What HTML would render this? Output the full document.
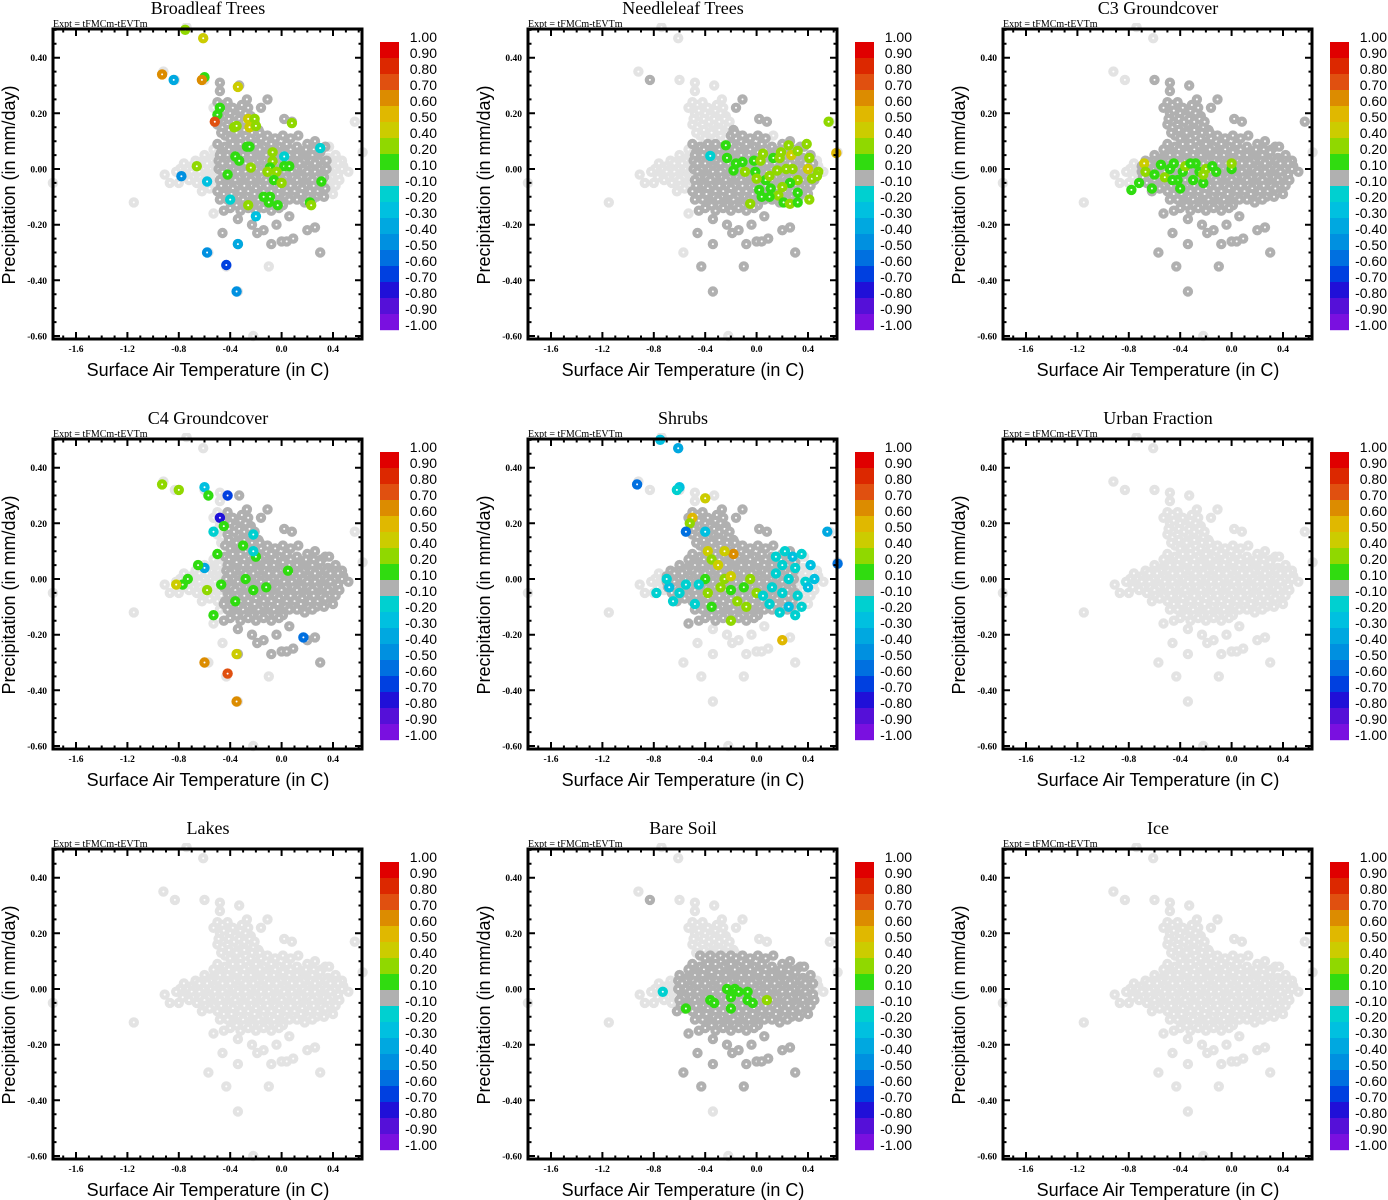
<!DOCTYPE html>
<html><head><meta charset="utf-8"><title>Correlation scatter panels</title>
<style>html,body{margin:0;padding:0;background:#fff}svg{display:block}</style></head>
<body>
<svg id="fig" width="1388" height="1200" viewBox="0 0 1388 1200" xmlns="http://www.w3.org/2000/svg"></svg>
<script>
// ---- data ----
const panelTitles = ["Broadleaf Trees","Needleleaf Trees","C3 Groundcover","C4 Groundcover","Shrubs","Urban Fraction","Lakes","Bare Soil","Ice"];
const xTicks = [-1.6,-1.2,-0.8,-0.4,0.0,0.4];
const xTickLabels = ["-1.6","-1.2","-0.8","-0.4","0.0","0.4"];
const yTicks = [0.4,0.2,0.0,-0.2,-0.4,-0.6];
const yTickLabels = ["0.40","0.20","0.00","-0.20","-0.40","-0.60"];
const cbBounds = [1.0,0.9,0.8,0.7,0.6,0.5,0.4,0.2,0.1,-0.1,-0.2,-0.3,-0.4,-0.5,-0.6,-0.7,-0.8,-0.9,-1.0];
const cbLabels = ["1.00","0.90","0.80","0.70","0.60","0.50","0.40","0.20","0.10","-0.10","-0.20","-0.30","-0.40","-0.50","-0.60","-0.70","-0.80","-0.90","-1.00"];
const cbColors = ["#e00000","#dc2800","#e05010","#dc8c00","#e0b800","#cccc00","#90d800","#30dc10","#b0b0b0","#00d0d0","#00c0e0","#00a8e0","#0090e0","#0070e0","#0040e0","#2010d8","#5510d8","#7a10e0"];
// base cloud, hundredths "x,y"
const basePoints = ("-50,24 -46,23 -42,24 -38,22 -48,20 -44,19 -40,20 -36,19 -32,21 -28,20 -24,19 -50,16 -46,15 -42,16 -38,15 -34,16 -30,15 -26,16 -22,15 -18,14 -44,12 -40,11 -36,12 -32,11 -28,12 -24,11 -20,12 -16,11 " +
"-53,22 -49,18 -45,21 -41,18 -37,17 -33,18 -29,17 -25,18 -21,17 -31,23 -26,22 " +
"-47,13 -41,14 -35,13 -29,14 -23,13 -17,13 -11,12 -5,11 1,12 7,11 13,12 " +
"-50,9 -44,8 -38,9 -32,9 -26,8 -20,9 -14,8 -8,9 -2,8 4,9 12,8 20,9 26,10 34,8 " +
"-53,7 -47,6 -41,7 -35,6 -29,7 -23,6 -17,7 -11,6 -5,7 1,6 7,7 13,6 19,7 25,7 31,7 37,8 " +
"-60,5 -54,4 -48,5 -42,5 -36,4 -30,5 -24,5 -18,4 -12,5 -6,5 0,4 6,5 12,5 18,4 24,5 30,6 36,4 42,5 " +
"-67,3 -61,3 -55,3 -49,3 -43,3 -37,3 -31,3 -25,3 -19,3 -13,3 -7,3 -1,3 5,3 11,3 17,3 23,3 29,3 35,3 41,3 47,3 " +
"-76,2 -70,1 -64,2 -58,2 -52,1 -46,2 -40,2 -34,1 -28,2 -22,2 -16,1 -10,2 -4,2 2,1 8,2 14,2 20,1 26,2 32,1 38,2 44,2 48,1 " +
"-79,0 -73,0 -67,0 -61,0 -55,0 -49,0 -43,0 -37,0 -31,0 -25,0 -19,0 -13,0 -7,0 -1,0 5,0 11,0 17,0 23,0 29,0 35,0 41,0 47,0 52,-1 " +
"-82,-1 -76,-2 -70,-1 -64,-1 -58,-2 -52,-1 -46,-1 -40,-2 -34,-1 -28,-1 -22,-2 -16,-1 -10,-1 -4,-2 2,-1 8,-1 14,-2 20,-1 26,-1 32,-2 38,-1 44,-2 " +
"-77,-3 -69,-3 -63,-3 -57,-3 -51,-3 -45,-3 -39,-3 -33,-3 -27,-3 -21,-3 -15,-3 -9,-3 -3,-3 3,-3 9,-3 15,-3 21,-3 27,-3 33,-3 39,-3 45,-4 " +
"-80,-5 -72,-4 -66,-5 -60,-4 -54,-5 -48,-4 -42,-5 -36,-4 -30,-5 -24,-4 -18,-5 -12,-4 -6,-5 0,-4 6,-5 12,-4 18,-5 24,-4 30,-5 36,-4 42,-6 " +
"-59,-6 -53,-6 -47,-6 -41,-6 -35,-6 -29,-6 -23,-6 -17,-6 -11,-6 -5,-6 1,-6 7,-6 13,-6 19,-6 25,-6 31,-6 37,-6 " +
"-62,-8 -56,-7 -50,-8 -44,-8 -38,-7 -32,-8 -26,-8 -20,-7 -14,-8 -8,-8 -2,-7 4,-8 10,-8 16,-7 22,-8 28,-8 34,-7 40,-9 " +
"-45,-9 -39,-9 -33,-10 -27,-10 -21,-9 -15,-10 -9,-10 -3,-9 3,-10 9,-10 15,-9 21,-10 27,-10 33,-10 " +
"-48,-11 -42,-11 -36,-12 -30,-11 -24,-12 -18,-11 -12,-12 -6,-11 0,-12 6,-11 12,-11 18,-12 24,-11 " +
"-35,-13 -29,-13 -23,-13 -17,-13 -11,-13 -5,-13 1,-13 " +
"-40,-14 -32,-15 -26,-14 -20,-15 -14,-14 -8,-15 -2,-14 " +
"-74,51 -61,47 -92,35 -83,32 -60,32 -48,31 -48,28 -33,30 -27,25 -11,25 -16,22 2,18 8,17 57,17 63,6 -178,-5 -115,-12 -91,-2 -87,-5 " +
"-53,-16 -45,-15 -34,-18 -46,-23 -23,-20 -14,-22 -19,-23 -4,-20 6,-17 20,-22 26,-21 0,-26 4,-26 9,-25 -8,-27 -34,-27 -57,-30 30,-30 -43,-35 -10,-35 -34,-44 -22,-60")
  .split(" ").map(s => s.split(",").map(Number));
// dark gray regions per panel [xmin,xmax,ymin,ymax]
const darkRegions = [
  [[-0.5,0.35,-0.3,0.36]],
  [[-0.5,0.45,-0.45,0.1],[-0.2,0.1,0.1,0.3],[-0.85,-0.8,0.3,0.35]],
  [[-0.7,0.6,-0.45,0.36]],
  [[-0.45,0.55,-0.32,0.3]],
  [[-0.7,0.3,-0.16,0.25]],
  [], [],
  [[-0.62,0.45,-0.4,0.12],[-0.85,-0.8,0.3,0.35]],
  []
];
// colored (significant) points [x,y,r]
const sigBroadleaf = [[-0.75,0.50,0.2],[-0.61,0.47,0.4],[-0.93,0.34,0.6],[-0.84,0.32,-0.4],[-0.60,0.33,0.1],[-0.62,0.32,0.6],[-0.34,0.295,0.4],[-0.48,0.22,0.1],[-0.50,0.195,0.1],[-0.52,0.17,0.7],[-0.37,0.15,0.2],[-0.35,0.155,0.2],[-0.26,0.18,0.4],[-0.21,0.18,0.2],[-0.25,0.15,0.4],[-0.20,0.155,0.2],[0.08,0.165,0.2],[-0.27,0.08,0.1],[-0.25,0.08,0.1],[0.30,0.075,-0.2],[0.02,0.045,-0.2],[-0.36,0.045,0.1],[-0.33,0.03,0.1],[-0.07,0.06,0.2],[-0.07,0.028,0.2],[-0.66,0.01,0.2],[-0.24,0.005,0.2],[-0.09,0.005,0.1],[0.02,0.01,0.1],[0.06,0.01,0.1],[-0.78,-0.026,-0.5],[-0.58,-0.045,-0.3],[-0.42,-0.02,0.1],[-0.11,-0.01,0.2],[-0.04,-0.01,0.2],[-0.06,-0.04,0.1],[0.0,-0.05,0.2],[0.31,-0.045,0.1],[-0.40,-0.11,-0.2],[-0.14,-0.10,0.1],[-0.09,-0.10,0.1],[-0.10,-0.12,0.1],[-0.03,-0.13,0.1],[-0.26,-0.13,0.2],[0.22,-0.12,0.1],[0.23,-0.13,0.2],[-0.20,-0.17,-0.3],[-0.34,-0.27,-0.4],[-0.58,-0.30,-0.5],[-0.43,-0.345,-0.7],[-0.35,-0.44,-0.5]];
const sigNeedleleaf = [[-0.36,0.047,-0.2],[-0.24,0.085,0.1],[-0.23,0.04,0.1],[-0.16,0.02,0.1],[-0.11,0.025,0.1],[-0.18,-0.005,0.1],[-0.09,-0.01,0.2],[-0.02,0.03,0.1],[0.03,0.03,0.2],[-0.01,-0.01,0.1],[0.05,0.055,0.2],[0.13,0.04,0.1],[0.18,0.04,0.2],[0.19,0.06,0.2],[0.25,0.085,0.2],[0.27,0.05,0.4],[0.32,0.065,0.2],[0.39,0.09,0.2],[0.41,0.04,0.2],[0.40,0.0,0.4],[0.48,-0.01,0.2],[0.43,-0.035,0.2],[0.47,-0.025,0.2],[0.07,-0.04,0.1],[0.0,-0.035,0.2],[0.10,-0.025,0.2],[0.16,-0.005,0.2],[0.23,0.0,0.2],[0.28,0.0,0.2],[0.32,-0.04,0.2],[0.26,-0.05,0.1],[0.20,-0.065,0.2],[0.11,-0.07,0.1],[0.02,-0.075,0.1],[0.04,-0.10,0.1],[0.17,-0.095,0.2],[0.21,-0.12,0.1],[0.26,-0.125,0.2],[0.32,-0.085,0.1],[0.32,-0.12,0.1],[0.41,-0.11,0.2],[-0.05,-0.125,0.2],[0.56,0.17,0.2],[0.62,0.057,0.5],[0.10,-0.10,0.1]];
const sigC3 = [[-0.78,-0.075,0.1],[-0.72,-0.05,0.1],[-0.68,0.02,0.4],[-0.67,-0.01,0.2],[-0.60,-0.02,0.1],[-0.55,0.015,0.1],[-0.52,-0.03,0.2],[-0.48,0.0,0.1],[-0.45,0.02,0.1],[-0.42,-0.04,0.1],[-0.38,-0.01,0.1],[-0.36,0.01,0.2],[-0.30,-0.04,0.1],[-0.28,0.02,0.1],[-0.25,-0.01,0.1],[-0.22,-0.05,0.1],[-0.20,0.0,0.2],[-0.15,0.01,0.1],[-0.12,-0.01,0.1],[0.0,0.0,0.1],[0.0,0.02,0.2],[-0.40,-0.07,0.1],[-0.62,-0.07,0.1],[-0.22,-0.02,0.2],[-0.32,0.02,0.1],[-0.46,-0.04,0.1]];
const sigC4 = [[-0.93,0.34,0.2],[-0.80,0.32,0.2],[-0.60,0.33,-0.3],[-0.57,0.30,0.1],[-0.42,0.30,-0.7],[-0.48,0.22,-0.8],[-0.53,0.17,-0.2],[-0.45,0.19,0.1],[-0.22,0.16,-0.2],[-0.30,0.12,0.1],[-0.50,0.09,0.1],[-0.60,0.04,-0.4],[-0.65,0.05,0.1],[-0.73,0.0,0.1],[-0.77,-0.02,0.1],[-0.82,-0.02,0.4],[-0.58,-0.04,0.2],[-0.47,-0.02,0.1],[-0.36,-0.08,0.1],[-0.28,0.0,0.1],[-0.22,-0.04,0.1],[-0.20,0.08,0.1],[-0.12,-0.03,0.1],[0.05,0.03,0.1],[0.17,-0.21,-0.6],[-0.53,-0.13,0.1],[-0.60,-0.30,0.6],[-0.42,-0.34,0.7],[-0.35,-0.27,0.4],[-0.35,-0.44,0.6],[-0.22,0.10,-0.2]];
const sigShrubs = [[-0.75,0.50,-0.3],[-0.61,0.47,-0.4],[-0.93,0.34,-0.6],[-0.60,0.33,-0.3],[-0.62,0.32,-0.2],[-0.40,0.29,0.4],[-0.50,0.22,0.5],[-0.52,0.20,0.2],[-0.55,0.17,-0.6],[-0.40,0.17,-0.3],[-0.38,0.10,0.4],[-0.18,0.09,0.6],[-0.35,0.07,0.2],[-0.30,0.05,0.4],[-0.25,0.0,0.2],[-0.40,0.0,0.1],[-0.45,-0.02,-0.2],[-0.38,-0.05,0.2],[-0.28,-0.03,0.2],[-0.20,-0.04,0.1],[-0.10,-0.03,0.1],[-0.05,0.0,0.2],[0.0,-0.05,0.2],[-0.15,-0.08,0.2],[-0.35,-0.10,0.1],[-0.08,-0.10,0.2],[-0.20,-0.15,0.2],[0.20,-0.22,0.5],[-0.60,-0.05,-0.2],[-0.55,-0.02,-0.2],[-0.68,-0.03,-0.3],[-0.70,0.0,-0.2],[-0.65,-0.08,-0.2],[-0.78,-0.05,-0.2],[-0.48,-0.09,-0.2],[-0.25,0.10,0.4],[-0.20,0.01,0.4],[0.15,0.08,-0.2],[0.22,0.10,-0.2],[0.28,0.08,-0.3],[0.35,0.09,-0.2],[0.20,0.05,-0.2],[0.30,0.04,-0.2],[0.42,0.05,-0.3],[0.45,0.0,-0.3],[0.38,-0.01,-0.2],[0.25,0.0,-0.2],[0.15,0.02,-0.2],[0.12,-0.03,-0.2],[0.20,-0.05,-0.2],[0.32,-0.06,-0.2],[0.40,-0.03,-0.3],[0.35,-0.10,-0.2],[0.25,-0.10,-0.3],[0.18,-0.12,-0.2],[0.30,-0.13,-0.2],[0.55,0.17,-0.4],[0.63,0.055,-0.6],[0.10,-0.09,-0.2],[0.05,-0.06,-0.2]];
const sigUrban = [];
const sigLakes = [];
const sigBareSoil = [[-0.73,-0.01,-0.2],[-0.55,-0.07,0.1],[-0.36,-0.04,0.1],[-0.33,-0.05,0.1],[-0.23,0.0,0.1],[-0.17,0.0,0.1],[-0.14,-0.01,0.1],[-0.20,-0.03,0.1],[-0.07,-0.01,0.1],[-0.07,-0.04,0.1],[-0.03,-0.05,0.1],[-0.20,-0.07,0.1],[0.08,-0.04,0.2]];
const sigIce = [];
const sigAll = [sigBroadleaf,sigNeedleleaf,sigC3,sigC4,sigShrubs,sigUrban,sigLakes,sigBareSoil,sigIce];

// ---- drawing ----
const NS = "http://www.w3.org/2000/svg";
const svg = document.getElementById("fig");
function mk(tag, attrs, parent, text) {
  const e = document.createElementNS(NS, tag);
  for (const k in attrs) e.setAttribute(k, attrs[k]);
  if (text !== undefined) e.textContent = text;
  parent.appendChild(e);
  return e;
}
const L = 53, T = 29, R = 362, B = 339;
function sx(v) { return 281.6 + v * 128.5; }
function sy(v) { return 169 - v * 278.3; }
function colorFor(v) {
  let idx;
  if (v >= 0.1) { idx = cbBounds.findIndex((b, i) => i < cbBounds.length - 1 && cbBounds[i + 1] <= v + 1e-9 && b > v + 1e-9); }
  else if (v <= -0.1) { idx = cbBounds.findIndex(b => Math.abs(b - (v + 0.1)) < 1e-6); if (idx < 0) idx = 9; }
  else idx = 8;
  if (idx < 0) idx = 0;
  return cbColors[idx];
}
function inRegions(p, regs) {
  return regs.some(r => p[0] >= r[0] && p[0] <= r[1] && p[1] >= r[2] && p[1] <= r[3]);
}
function dot(g, x, y, fill) {
  const c = mk("circle", {cx: sx(x).toFixed(1), cy: sy(y).toFixed(1), r: 5.2, fill: fill}, g);
  
  
  const d = mk("circle", {cx: sx(x).toFixed(1), cy: sy(y).toFixed(1), r: 1, fill: "#fff"}, g);
  
  
}

panelTitles.forEach((title, p) => {
  const dx = (p % 3) * 475, dy = Math.floor(p / 3) * 410;
  const g = mk("g", {transform: `translate(${dx},${dy})`}, svg);
  
  

  const t = mk("text", {x: 208, y: 14, "text-anchor": "middle", "font-family": "Liberation Serif, serif", "font-size": 18}, g, title);
  
  
  const ex = mk("text", {x: 53, y: 27, "font-family": "Liberation Serif, serif", "font-size": 10}, g, "Expt = tFMCm-tEVTm");
  
  

  const clipId = "clip" + p;
  const cp = mk("clipPath", {id: clipId}, g);
  mk("rect", {x: L - 6, y: T - 6, width: R - L + 12, height: B - T + 12}, cp);
  const pg = mk("g", {"clip-path": `url(#${clipId})`}, g);
  
  
  const dark = [], light = [];
  basePoints.forEach(bp => {
    const q = [bp[0] / 100, bp[1] / 100];
    (inRegions(q, darkRegions[p]) ? dark : light).push(q);
  });
  light.forEach(q => dot(pg, q[0], q[1], "#e3e3e3"));
  dark.forEach(q => dot(pg, q[0], q[1], "#b0b0b0"));
  sigAll[p].forEach(q => dot(pg, q[0], q[1], colorFor(q[2])));

  const fr = mk("rect", {x: L, y: T, width: R - L, height: B - T, fill: "none", stroke: "#000", "stroke-width": 3}, g);
  
  
  let tk = "";
  for (let v = -1.7; v <= 0.61; v += 0.1) {
    const x = sx(v), major = Math.abs((v * 10 + 16) % 4) < 0.01 || Math.abs((v * 10 + 16) % 4 - 4) < 0.01;
    const len = major ? 7 : 3.5;
    tk += `M${x.toFixed(1)},${B}v${-len}M${x.toFixed(1)},${T}v${len}`;
  }
  for (let v = -0.6; v <= 0.501; v += 0.05) {
    const y = sy(v), major = Math.abs(Math.round(v * 20) % 4) === 0;
    const len = major ? 7 : 3.5;
    tk += `M${L},${y.toFixed(1)}h${len}M${R},${y.toFixed(1)}h${-len}`;
  }
  const tp = mk("path", {d: tk, stroke: "#000", "stroke-width": 2, fill: "none"}, g);
  
  

  xTicks.forEach((v, i) => {
    const e = mk("text", {x: sx(v), y: 352, "text-anchor": "middle", "font-family": "Liberation Serif, serif", "font-size": 9.5, "font-weight": "bold"}, g, xTickLabels[i]);
    
    
  });
  yTicks.forEach((v, i) => {
    const e = mk("text", {x: 47, y: sy(v) + 3.5, "text-anchor": "end", "font-family": "Liberation Serif, serif", "font-size": 9.5, "font-weight": "bold"}, g, yTickLabels[i]);
    
    
  });
  const xt = mk("text", {x: 208, y: 376, "text-anchor": "middle", "font-family": "Liberation Sans, sans-serif", "font-size": 18}, g, "Surface Air Temperature (in C)");
  
  
  const yt = mk("text", {x: 0, y: 0, transform: "translate(15,185) rotate(-90)", "text-anchor": "middle", "font-family": "Liberation Sans, sans-serif", "font-size": 18}, g, "Precipitation (in mm/day)");
  
  

  const cb = mk("g", {}, g);
  
  
  cbColors.forEach((c, i) => {
    const r = mk("rect", {x: 380, y: 42 + i * 16, width: 19, height: 16.2, fill: c}, cb);
    
    
  });
  cbLabels.forEach((s, i) => {
    const e = mk("text", {x: 437, y: 42 + i * 16, "text-anchor": "end", "font-family": "Liberation Sans, sans-serif", "font-size": 14}, cb, s);
    
    
  });
});
</script>
</body></html>
